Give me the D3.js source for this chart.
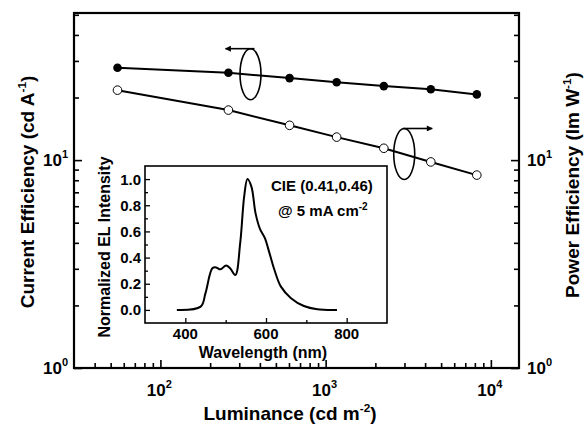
<!DOCTYPE html>
<html>
<head>
<meta charset="utf-8">
<script src="https://cdn.jsdelivr.net/npm/d3@7/dist/d3.min.js"></script>
<style>
  html, body { margin: 0; padding: 0; background: #fff; }
  svg { display: block; font-family: "Liberation Sans", Arial, sans-serif; font-weight: bold; }
</style>
</head>
<body>
<svg id="chart" width="585" height="430"></svg>
<script>
// ---- data ----
const luminance = [55, 258, 605, 1166, 2250, 4330, 8220];           // cd m^-2
const currentEff = [27.8, 26.3, 24.8, 23.7, 22.7, 21.9, 20.7];      // cd A^-1
const powerEff = [21.7, 17.4, 14.7, 12.9, 11.4, 9.8, 8.47];         // lm W^-1

const xMajorTicks = [100, 1000, 10000];
const xTickExp = ["2", "3", "4"];
const yMajorTicks = [1, 10];
const yTickExp = ["0", "1"];

const wavelength = [379, 438, 450, 467, 476, 487, 501, 511, 524, 536, 546, 554, 564, 574, 585, 597, 609, 621, 637, 662, 694, 727, 776];
const intensity  = [0.0, 0.025, 0.128, 0.318, 0.325, 0.31, 0.34, 0.318, 0.267, 0.51, 0.87, 1.0, 0.94, 0.74, 0.62, 0.55, 0.43, 0.305, 0.178, 0.09, 0.03, 0.005, 0.0];
const insetYTicks = [0.0, 0.2, 0.4, 0.6, 0.8, 1.0];
const insetYMinor = [0.1, 0.3, 0.5, 0.7, 0.9];
const insetXTicks = [400, 600, 800];
const insetXMinor = [500, 700];

// annotation ellipses (data coords of centre) + arrow direction
const annotations = [
  { lum: 351, val: 25.9, dir: -1 },
  { lum: 2990, val: 10.7, dir: 1 }
];

// ---- layout ----
const svg = d3.select("#chart");
const L = 74, R = 519, T = 13, B = 368;

const x = d3.scaleLog().domain([30, 14800]).range([L, R]);
const y = d3.scaleLog().domain([1, 51]).range([B, T]);
const y2 = d3.scaleLog().domain([1, 51]).range([B, T]);

function minorTicks(lo, hi) {
  const out = [];
  for (let e = Math.floor(Math.log10(lo)); e <= Math.ceil(Math.log10(hi)); e++) {
    for (let m = 2; m <= 9; m++) {
      const v = m * Math.pow(10, e);
      if (v > lo && v < hi) out.push(v);
    }
  }
  return out;
}

// axes (inward ticks)
function addAxis(axisGen, transform) {
  const g = svg.append("g").attr("transform", transform).call(axisGen);
  g.select(".domain").remove();
  g.selectAll(".tick line").attr("stroke", "#000").attr("stroke-width", 1.6);
  g.selectAll(".tick text").remove();
  return g;
}
addAxis(d3.axisBottom(x).tickValues(xMajorTicks).tickSize(-8), `translate(0,${B})`);
addAxis(d3.axisBottom(x).tickValues(minorTicks(30, 14800)).tickSize(-5), `translate(0,${B})`);
addAxis(d3.axisLeft(y).tickValues(yMajorTicks).tickSize(-8), `translate(${L},0)`);
addAxis(d3.axisLeft(y).tickValues(minorTicks(1, 51)).tickSize(-5), `translate(${L},0)`);
addAxis(d3.axisRight(y2).tickValues(yMajorTicks).tickSize(-8), `translate(${R},0)`);
addAxis(d3.axisRight(y2).tickValues(minorTicks(1, 51)).tickSize(-5), `translate(${R},0)`);

// frame
svg.append("rect").attr("x", L).attr("y", T).attr("width", R - L).attr("height", B - T)
  .attr("fill", "none").attr("stroke", "#000").attr("stroke-width", 2.2);

// tick labels with superscripts
function powLabel(px, py, exp, anchor) {
  const t = svg.append("text").attr("x", px).attr("y", py).attr("text-anchor", anchor)
    .attr("font-size", 17).attr("fill", "#000");
  t.append("tspan").text("10");
  t.append("tspan").attr("font-size", 11).attr("dy", -8).text(exp);
}
xMajorTicks.forEach((v, i) => powLabel(x(v) - 1, 396, xTickExp[i], "middle"));
yMajorTicks.forEach((v, i) => powLabel(68, y(v) + 6, yTickExp[i], "end"));
yMajorTicks.forEach((v, i) => powLabel(527, y2(v) + 6, yTickExp[i], "start"));

// axis titles
function title(px, py, rot, parts, size) {
  const t = svg.append("text").attr("text-anchor", "middle").attr("font-size", size)
    .attr("transform", `translate(${px},${py}) rotate(${rot})`).attr("fill", "#000");
  parts.forEach(p => {
    const s = t.append("tspan").text(p.t);
    if (p.sup) s.attr("font-size", size * 0.62).attr("dy", -size * 0.42);
    if (p.down) s.attr("dy", size * 0.42);
  });
}
title(290, 420, 0, [{ t: "Luminance (cd m" }, { t: "-2", sup: true }, { t: ")", down: true }], 19);
title(34, 192, -90, [{ t: "Current Efficiency (cd A" }, { t: "-1", sup: true }, { t: ")", down: true }], 19);
title(579, 185, -90, [{ t: "Power Efficiency (lm W" }, { t: "-1", sup: true }, { t: ")", down: true }], 19);

// data lines
const lineCE = d3.line().x((d, i) => x(luminance[i])).y(d => y(d));
const linePE = d3.line().x((d, i) => x(luminance[i])).y(d => y2(d));
svg.append("path").attr("d", lineCE(currentEff)).attr("fill", "none").attr("stroke", "#000").attr("stroke-width", 2);
svg.append("path").attr("d", linePE(powerEff)).attr("fill", "none").attr("stroke", "#000").attr("stroke-width", 2);

svg.append("g").selectAll("circle").data(currentEff).join("circle")
  .attr("cx", (d, i) => x(luminance[i])).attr("cy", d => y(d)).attr("r", 4.3)
  .attr("fill", "#000");
svg.append("g").selectAll("circle").data(powerEff).join("circle")
  .attr("cx", (d, i) => x(luminance[i])).attr("cy", d => y2(d)).attr("r", 4.3)
  .attr("fill", "#fff").attr("stroke", "#000").attr("stroke-width", 1);

// annotations: ellipse + arrow
const defs = svg.append("defs");
defs.append("marker").attr("id", "ah").attr("viewBox", "0 0 10 10").attr("refX", 9).attr("refY", 5)
  .attr("markerWidth", 8).attr("markerHeight", 6).attr("markerUnits", "userSpaceOnUse").attr("orient", "auto")
  .append("path").attr("d", "M0,0 L10,5 L0,10 Z").attr("fill", "#000");
annotations.forEach(a => {
  const cx = x(a.lum), cy = y(a.val);
  svg.append("ellipse").attr("cx", cx).attr("cy", cy).attr("rx", 10.5).attr("ry", 25.5)
    .attr("fill", "none").attr("stroke", "#000").attr("stroke-width", 1.6);
  const sx = cx + (a.dir < 0 ? 4 : -1), sy = cy - 25.5;
  svg.append("line").attr("x1", sx).attr("y1", sy).attr("x2", sx + a.dir * 29).attr("y2", sy)
    .attr("stroke", "#000").attr("stroke-width", 1.6).attr("marker-end", "url(#ah)");
});

// ---- inset ----
const iL = 145, iR = 387, iT = 166, iB = 323;
const xi = d3.scaleLinear().domain([300, 900]).range([iL, iR]);
const yi = d3.scaleLinear().domain([-0.1, 1.1]).range([iB, iT]);

svg.append("rect").attr("x", iL).attr("y", iT).attr("width", iR - iL).attr("height", iB - iT)
  .attr("fill", "#fff").attr("stroke", "#000").attr("stroke-width", 1.6);

function addInsetAxis(axisGen, transform) {
  const g = svg.append("g").attr("transform", transform).call(axisGen);
  g.select(".domain").remove();
  g.selectAll(".tick line").attr("stroke", "#000").attr("stroke-width", 1.3);
  g.selectAll(".tick text").remove();
}
addInsetAxis(d3.axisLeft(yi).tickValues(insetYTicks).tickSize(-5), `translate(${iL},0)`);
addInsetAxis(d3.axisLeft(yi).tickValues(insetYMinor).tickSize(-3), `translate(${iL},0)`);
addInsetAxis(d3.axisBottom(xi).tickValues(insetXTicks).tickSize(-5), `translate(0,${iB})`);
addInsetAxis(d3.axisBottom(xi).tickValues(insetXMinor).tickSize(-3), `translate(0,${iB})`);

svg.append("g").selectAll("text").data(insetYTicks).join("text")
  .attr("x", iL - 4).attr("y", d => yi(d) + 5.5).attr("text-anchor", "end")
  .attr("font-size", 15).text(d => d.toFixed(1));
svg.append("g").selectAll("text").data(insetXTicks).join("text")
  .attr("x", d => xi(d)).attr("y", 339).attr("text-anchor", "middle")
  .attr("font-size", 15).text(d => d);

svg.append("text").attr("x", 263).attr("y", 358).attr("text-anchor", "middle")
  .attr("font-size", 16).text("Wavelength (nm)");
svg.append("text").attr("text-anchor", "middle").attr("font-size", 16)
  .attr("transform", `translate(110,247) rotate(-90)`).text("Normalized EL Intensity");

const specLine = d3.line().x((d, i) => xi(wavelength[i])).y(d => yi(d)).curve(d3.curveCatmullRom);
svg.append("path").attr("d", specLine(intensity)).attr("fill", "none")
  .attr("stroke", "#000").attr("stroke-width", 2);

svg.append("text").attr("x", 271).attr("y", 191).attr("font-size", 15).text("CIE (0.41,0.46)");
const t2 = svg.append("text").attr("x", 278).attr("y", 216).attr("font-size", 15);
t2.append("tspan").text("@ 5 mA cm");
t2.append("tspan").attr("font-size", 10).attr("dy", -6).text("-2");
</script>
</body>
</html>
